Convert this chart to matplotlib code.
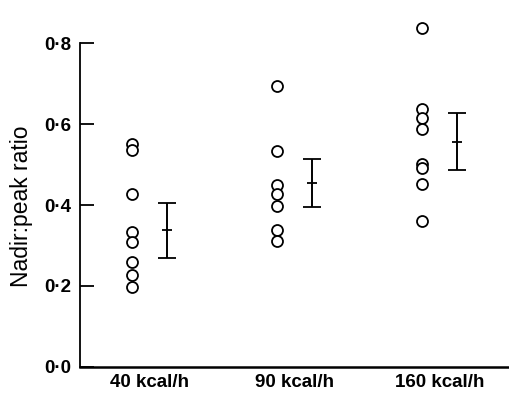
import matplotlib
matplotlib.use("Agg")
import matplotlib.pyplot as plt
import numpy as np

plt.rcParams['font.family'] = ['Liberation Sans', 'DejaVu Sans']

# nadir:peak ratio per infusion rate
groups = ["40 kcal/h", "90 kcal/h", "160 kcal/h"]
g40 = [0.551, 0.535, 0.427, 0.332, 0.309, 0.258, 0.227, 0.198]
g90 = [0.695, 0.534, 0.450, 0.428, 0.398, 0.338, 0.310]
g160 = [0.838, 0.637, 0.616, 0.587, 0.502, 0.491, 0.453, 0.361]
means = [0.337, 0.455, 0.557]
sems = [0.069, 0.060, 0.071]
yticks = [0.0, 0.2, 0.4, 0.6, 0.8]

fig = plt.figure(figsize=(5.1, 3.95), dpi=100)
ax = fig.add_axes([80 / 510, 28.3 / 395, 430 / 510, 363.8 / 395])

off = 0.12
for i, vals in enumerate([g40, g90, g160]):
    ax.plot([i - off] * len(vals), vals, 'o', ms=7.9, mfc='white', mec='black', mew=1.3)
    ax.errorbar(i + off, means[i], yerr=sems[i], fmt='_', ms=6.5, mew=1.3,
                color='black', ecolor='black', elinewidth=1.4, capsize=6.8, capthick=1.4)

ax.set_xlim(-0.478, 2.488)
ax.set_ylim(0, 0.9)
ax.spines['top'].set_visible(False)
ax.spines['right'].set_visible(False)
ax.spines['left'].set_bounds(0, 0.8)
ax.spines['left'].set_linewidth(1.3)
ax.spines['bottom'].set_linewidth(1.8)

ax.set_yticks(yticks)
ax.set_yticklabels([("%.1f" % v).replace(".", "\u00b7") for v in yticks],
                   fontsize=13.5, fontweight='bold')
ax.tick_params(axis='y', direction='in', length=10, width=1.3, pad=6)
ax.set_xticks(range(3))
ax.set_xticklabels(groups, fontsize=13.5, fontweight='bold')
ax.tick_params(axis='x', length=0, pad=5)
ax.set_ylabel("Nadir:peak ratio", fontsize=16.5)
ax.yaxis.set_label_coords(-47 / 430, 0.397 / 0.9)

fig.savefig("out.png", dpi=100)
